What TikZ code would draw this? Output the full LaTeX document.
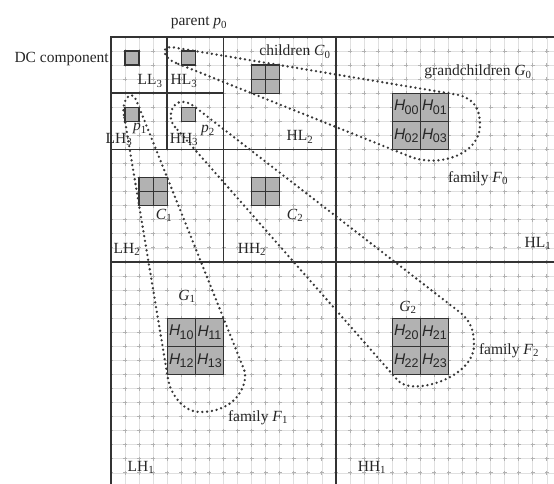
\documentclass[tikz,border=0pt]{standalone}
\usepackage{fontspec}
\setmainfont{Liberation Serif}
\newfontfamily\hfam{Liberation Sans}
\newcommand\Hlab[1]{{\hfam\fontsize{15.5}{15.5}\selectfont\itshape H\kern-0.5pt\raisebox{-3.2pt}{\upshape\fontsize{12.5}{12.5}\selectfont #1}}}
\begin{document}
\begin{tikzpicture}[x=1pt,y=-1pt,
  lbl/.style={font=\fontsize{15.5}{18}\selectfont, text=black!85, inner sep=0pt},
  hl/.style={inner sep=0pt, text=black!85},
  gridl/.style={draw=black!12, line width=0.8pt},
  gridd/.style={draw=black!30, line width=0.9pt, dash pattern=on 4pt off 10.0625pt, dash phase=2pt},
  band/.style={draw=black!80, line width=1.7pt},
  frame/.style={draw=black!80, line width=2.4pt},
  coef/.style={fill=black!30, draw=black!80, line width=1.3pt},
  fam/.style={draw=black!78, line width=2.6pt, line cap=round, dash pattern=on 0pt off 4.8pt}]
\useasboundingbox (0,0) rectangle (554,484);
\fill[white] (0,0) rectangle (554,484);
\begin{scope}
\clip (0,0) rectangle (554,484);
\begin{scope}[shift={(111,37)}, x=14.0625pt, y=-14.0625pt]
  \foreach \i in {0,...,32} {
    \draw[gridl] (\i,0) -- (\i,32);
    \draw[gridl] (0,\i) -- (32,\i);
  }
  \foreach \i in {0,...,32} {
    \draw[gridd] (\i,0) -- (\i,32);
    \draw[gridd] (0,\i) -- (32,\i);
  }
  % subband boundaries
  \draw[band] (16,0) -- (16,32) (0,16) -- (32,16);
  \draw[band] (8,0) -- (8,16) (0,8) -- (16,8);
  \draw[band] (4,0) -- (4,8) (0,4) -- (8,4);
  \draw[frame] (0,0) rectangle (32,32);
  % parents
  \draw[coef] (1,1) rectangle (2,2);
  \draw[coef] (5,1) rectangle (6,2);
  \draw[coef] (1,5) rectangle (2,6);
  \draw[coef] (5,5) rectangle (6,6);
  % children
  \foreach \cx/\cy in {10/2, 2/10, 10/10} {
    \draw[coef] (\cx,\cy) rectangle ++(2,2);
    \draw[draw=black!80, line width=1.3pt] (\cx+1,\cy) -- ++(0,2) (\cx,\cy+1) -- ++(2,0);
  }
  % grandchildren
  \foreach \gx/\gy in {20/4, 4/20, 20/20} {
    \draw[coef] (\gx,\gy) rectangle ++(4,4);
    \draw[draw=black!80, line width=1.5pt] (\gx+2,\gy) -- ++(0,4) (\gx,\gy+2) -- ++(4,0);
  }
  \node[hl] (h00) at (21,5) {\Hlab{00}};
  \node[hl] (h01) at (23,5) {\Hlab{01}};
  \node[hl] (h02) at (21,7) {\Hlab{02}};
  \node[hl] (h03) at (23,7) {\Hlab{03}};
  \node[hl] (h10) at (5,21) {\Hlab{10}};
  \node[hl] (h11) at (7,21) {\Hlab{11}};
  \node[hl] (h12) at (5,23) {\Hlab{12}};
  \node[hl] (h13) at (7,23) {\Hlab{13}};
  \node[hl] (h20) at (21,21) {\Hlab{20}};
  \node[hl] (h21) at (23,21) {\Hlab{21}};
  \node[hl] (h22) at (21,23) {\Hlab{22}};
  \node[hl] (h23) at (23,23) {\Hlab{23}};
\end{scope}
% families
\draw[fam] (176,63) .. controls (162,57.4) and (160,45) .. (174,47.5)
  -- (455,94.3) .. controls (473,97.3) and (480,108) .. (480,125)
  .. controls (480,155) and (438,167.8) .. (410,156.6) -- cycle;
\draw[fam] (124,115) .. controls (121,101) and (131,88) .. (136.2,100)
  -- (244.2,370) .. controls (248.2,380) and (240,412) .. (200,412)
  .. controls (182,412) and (170.2,392) .. (168.2,380) -- cycle;
\draw[fam] (175,127) .. controls (164,114.5) and (175,91.5) .. (195,107)
  -- (460,312.4) .. controls (470,320.2) and (474,330) .. (474,345)
  .. controls (474,378) and (412,396.5) .. (398,380.6) -- cycle;
\end{scope}
% labels
\node[lbl, anchor=base] (parent) at (199,26) {parent \textit{p}\textsubscript{0}};
\node[lbl, anchor=base east] (dc) at (109,63) {DC component};
\node[lbl, anchor=base] (ll3) at (150,85) {LL\textsubscript{3}};
\node[lbl, anchor=base] (hl3) at (184,85) {HL\textsubscript{3}};
\node[lbl, anchor=base] (lh3) at (119,143) {LH\textsubscript{3}};
\node[lbl, anchor=base] (p1) at (140,131) {\textit{p}\textsubscript{1}};
\node[lbl, anchor=base] (hh3) at (184,143) {HH\textsubscript{3}};
\node[lbl, anchor=base] (p2) at (208,133) {\textit{p}\textsubscript{2}};
\node[lbl, anchor=base] (hl2) at (300,141) {HL\textsubscript{2}};
\node[lbl, anchor=base] (c0) at (295,56) {children \textit{C}\textsubscript{0}};
\node[lbl, anchor=base] (g0) at (478,76) {grandchildren \textit{G}\textsubscript{0}};
\node[lbl, anchor=base] (f0) at (478,182) {family \textit{F}\textsubscript{0}};
\node[lbl, anchor=base] (hl1) at (538,247) {HL\textsubscript{1}};
\node[lbl, anchor=base] (c1) at (164,219) {\textit{C}\textsubscript{1}};
\node[lbl, anchor=base] (c2) at (295,219) {\textit{C}\textsubscript{2}};
\node[lbl, anchor=base] (lh2) at (127,253) {LH\textsubscript{2}};
\node[lbl, anchor=base] (hh2) at (252,253) {HH\textsubscript{2}};
\node[lbl, anchor=base] (g1) at (187,300) {\textit{G}\textsubscript{1}};
\node[lbl, anchor=base] (f1) at (258,421) {family \textit{F}\textsubscript{1}};
\node[lbl, anchor=base] (lh1) at (141,471) {LH\textsubscript{1}};
\node[lbl, anchor=base] (g2) at (408,311) {\textit{G}\textsubscript{2}};
\node[lbl, anchor=base] (f2) at (509,354) {family \textit{F}\textsubscript{2}};
\node[lbl, anchor=base] (hh1) at (372,471) {HH\textsubscript{1}};
\end{tikzpicture}
\end{document}
